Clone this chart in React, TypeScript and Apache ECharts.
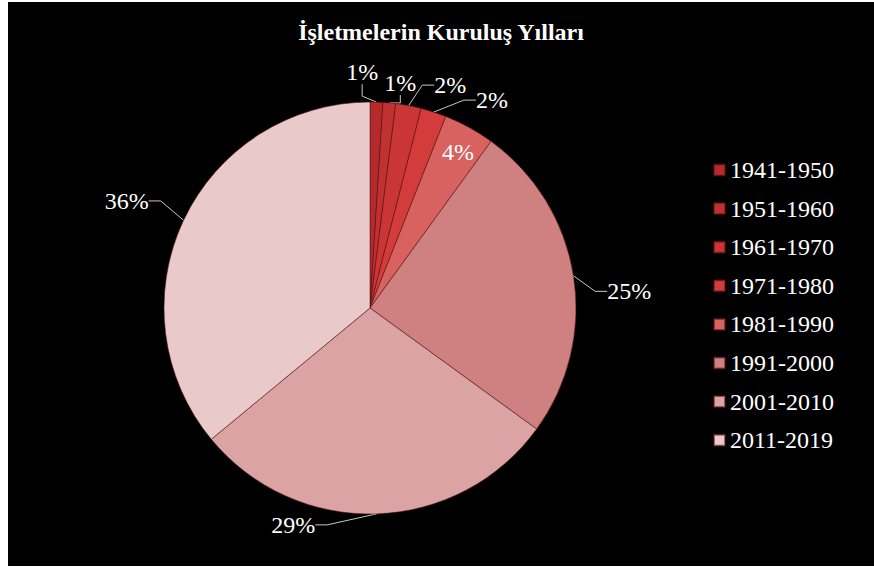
import React, { useEffect, useRef } from "react";
import * as echarts from "echarts";

const titleText = "İşletmelerin Kuruluş Yılları";
const categories = ["1941-1950", "1951-1960", "1961-1970", "1971-1980", "1981-1990", "1991-2000", "2001-2010", "2011-2019"];
const values = [1, 1, 2, 2, 4, 25, 29, 36];
const colors = ["#b52b2b", "#c03131", "#ca3636", "#d33c3b", "#d86260", "#cf8181", "#dba3a3", "#e9c9c9"];
// label nudges (px) so the labels sit where the original places them
const labelShiftX = [-48, -104, -93, -78, 37, 0, -123, 2];
const labelShiftY = [-8, -23, -47, -58, -63, 19, -11, -10];
const insideLabels = ["1981-1990"];

const FONT = "Liberation Serif";

export default function App() {
  const ref = useRef<HTMLDivElement>(null);
  useEffect(() => {
    if (!ref.current) return;
    const chart = echarts.init(ref.current, undefined, { renderer: "svg" });
    chart.setOption({
      animation: false,
      backgroundColor: "#000000",
      textStyle: { fontFamily: FONT },
      title: {
        text: titleText,
        left: "center",
        top: 13,
        textStyle: { color: "#ffffff", fontFamily: FONT, fontSize: 24, fontWeight: "bold" },
      },
      legend: {
        orient: "vertical",
        left: 700,
        top: 151,
        itemWidth: 11,
        itemHeight: 11,
        itemGap: 14.6,
        icon: "rect",
        textStyle: { color: "#ffffff", fontFamily: FONT, fontSize: 24, lineHeight: 24 },
        data: categories,
      },
      series: [
        {
          type: "pie",
          center: [362, 306],
          radius: [0, 206],
          startAngle: 90,
          clockwise: true,
          avoidLabelOverlap: true,
          itemStyle: { borderColor: "rgba(90,20,20,0.55)", borderWidth: 1 },
          label: {
            show: true,
            formatter: "{d}%",
            color: "#ffffff",
            fontFamily: FONT,
            fontSize: 24,
          },
          labelLine: { show: true, length: 22, length2: 12, lineStyle: { color: "#c8c8c8", width: 1 } },
          labelLayout: (p: any) => ({
            x: p.labelRect.x + p.labelRect.width / 2 + labelShiftX[p.dataIndex],
            y: p.labelRect.y + p.labelRect.height / 2 + labelShiftY[p.dataIndex],
            align: "center",
            verticalAlign: "middle",
          }),
          data: categories.map((c, i) => ({
            name: c,
            value: values[i],
            itemStyle: { color: colors[i] },
            label: insideLabels.includes(c) ? { position: "inside" } : undefined,
            labelLine: insideLabels.includes(c) ? { show: false } : undefined,
          })),
        },
      ],
    });
    return () => chart.dispose();
  }, []);
  return (
    <div style={{ position: "fixed", left: 0, top: 0, width: 874, height: 567, background: "#ffffff" }}>
      <div ref={ref} style={{ position: "absolute", left: 8, top: 2, width: 866, height: 564 }} />
    </div>
  );
}
